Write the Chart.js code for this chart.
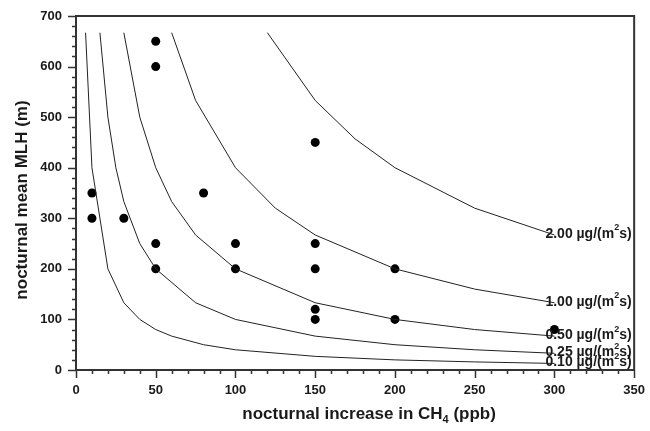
<!DOCTYPE html>
<html>
<head>
<meta charset="utf-8">
<script src="https://cdn.jsdelivr.net/npm/chart.js@4"></script>
<style>
  html, body { margin: 0; padding: 0; background: #fff; }
  #wrap { width: 650px; height: 431px; }
</style>
</head>
<body>
<div id="wrap"><canvas id="mlh"></canvas></div>
<script>
// measured points: nocturnal CH4 increase (ppb) vs mean MLH (m)
const obsIncrease = [10, 10, 30, 50, 50, 50, 50, 80, 100, 100, 150, 150, 150, 150, 150, 200, 200, 300];
const obsMLH = [350, 300, 300, 650, 600, 250, 200, 350, 250, 200, 450, 250, 200, 120, 100, 200, 100, 80];

// flux isolines
const fluxLabels = ["2.00", "1.00", "0.50", "0.25", "0.10"];
const flux200X = [120, 150, 175, 200, 250, 300];
const flux200Y = [667, 533, 457, 400, 320, 267];
const flux100X = [60, 75, 100, 125, 150, 200, 250, 300];
const flux100Y = [667, 533, 400, 320, 267, 200, 160, 133];
const flux050X = [30, 40, 50, 60, 75, 100, 150, 200, 250, 300];
const flux050Y = [667, 500, 400, 333, 267, 200, 133, 100, 80, 67];
const flux025X = [15, 20, 25, 30, 40, 50, 75, 100, 150, 200, 250, 300];
const flux025Y = [667, 500, 400, 333, 250, 200, 133, 100, 67, 50, 40, 33];
const flux010X = [6, 10, 20, 30, 40, 50, 60, 80, 100, 150, 200, 250, 300];
const flux010Y = [667, 400, 200, 133, 100, 80, 67, 50, 40, 27, 20, 16, 13];

const xTicks = [0, 50, 100, 150, 200, 250, 300, 350];
const yTicks = [0, 100, 200, 300, 400, 500, 600, 700];

const pairs = (xs, ys) => xs.map((x, i) => ({ x: x, y: ys[i] }));
const curves = [
  pairs(flux200X, flux200Y),
  pairs(flux100X, flux100Y),
  pairs(flux050X, flux050Y),
  pairs(flux025X, flux025Y),
  pairs(flux010X, flux010Y),
];

const INK = "#1a1a1a";
const AXIS = "#333";

const curveSets = curves.map((pts, i) => ({
  label: fluxLabels[i],
  data: pts,
  showLine: true,
  borderColor: "#222",
  borderWidth: 1,
  pointRadius: 0,
  tension: 0,
  isCurve: true,
}));

// ticks, frame, titles and curve labels
const decor = {
  id: "decor",
  afterDraw(chart) {
    const ctx = chart.ctx;
    const a = chart.chartArea;
    const xs = chart.scales.x;
    const ys = chart.scales.y;
    ctx.save();
    ctx.strokeStyle = AXIS;
    ctx.lineWidth = 2;
    // frame top + right
    ctx.beginPath();
    ctx.moveTo(a.left, a.top);
    ctx.lineTo(a.right, a.top);
    ctx.lineTo(a.right, a.bottom);
    ctx.stroke();

    ctx.lineWidth = 1.5;
    ctx.beginPath();
    xs.ticks.forEach((t) => {
      const px = Math.round(xs.getPixelForValue(t.value)) + 0.5;
      const len = xTicks.includes(t.value) ? 8 : 4;
      ctx.moveTo(px, a.bottom);
      ctx.lineTo(px, a.bottom + len);
    });
    ys.ticks.forEach((t) => {
      const py = Math.round(ys.getPixelForValue(t.value)) + 0.5;
      const len = yTicks.includes(t.value) ? 8 : 4;
      ctx.moveTo(a.left, py);
      ctx.lineTo(a.left - len, py);
    });
    ctx.stroke();

    // curve labels with superscript 2
    ctx.fillStyle = INK;
    ctx.textBaseline = "middle";
    chart.data.datasets.forEach((ds, i) => {
      if (!ds.isCurve) return;
      const last = ds.data[ds.data.length - 1];
      let px = xs.getPixelForValue(last.x) - 9;
      const py = ys.getPixelForValue(last.y) - 1;
      ctx.font = "bold 14px 'Liberation Sans', Arial, sans-serif";
      const a1 = ds.label + " \u00b5g/(m";
      ctx.fillText(a1, px, py);
      px += ctx.measureText(a1).width;
      ctx.font = "bold 9px 'Liberation Sans', Arial, sans-serif";
      ctx.fillText("2", px, py - 6);
      px += ctx.measureText("2").width;
      ctx.font = "bold 14px 'Liberation Sans', Arial, sans-serif";
      ctx.fillText("s)", px, py);
    });

    // x title with subscript 4
    ctx.textBaseline = "alphabetic";
    const big = "bold 17px 'Liberation Sans', Arial, sans-serif";
    const small = "bold 11px 'Liberation Sans', Arial, sans-serif";
    const p1 = "nocturnal increase in CH";
    const p2 = "4";
    const p3 = " (ppb)";
    ctx.font = big;
    const w1 = ctx.measureText(p1).width;
    const w3 = ctx.measureText(p3).width;
    ctx.font = small;
    const w2 = ctx.measureText(p2).width;
    let tx = (a.left + a.right) / 2 - (w1 + w2 + w3) / 2 + 14;
    const ty = 419;
    ctx.font = big;
    ctx.fillText(p1, tx, ty);
    tx += w1;
    ctx.font = small;
    ctx.fillText(p2, tx, ty + 4);
    tx += w2;
    ctx.font = big;
    ctx.fillText(p3, tx, ty);

    // y title
    ctx.translate(22, (a.top + a.bottom) / 2 + 7);
    ctx.rotate(-Math.PI / 2);
    ctx.textAlign = "center";
    ctx.textBaseline = "middle";
    ctx.font = big;
    ctx.fillText("nocturnal mean MLH (m)", 0, 0);
    ctx.restore();
  },
};

new Chart(document.getElementById("mlh"), {
  type: "scatter",
  data: {
    datasets: [
      ...curveSets,
      {
        label: "observed",
        data: pairs(obsIncrease, obsMLH),
        pointRadius: 4.5,
        pointHoverRadius: 4.5,
        pointBackgroundColor: "#000",
        pointBorderColor: "#000",
        borderWidth: 0,
        showLine: false,
      },
    ],
  },
  options: {
    responsive: true,
    maintainAspectRatio: false,
    animation: false,
    events: [],
    layout: { padding: { top: 16, right: 13, left: 0, bottom: 0 } },
    plugins: {
      legend: { display: false },
      tooltip: { enabled: false },
    },
    scales: {
      x: {
        type: "linear",
        min: 0,
        max: 350,
        afterFit: (s) => { s.height = 61; },
        border: { display: true, color: AXIS, width: 2 },
        grid: { drawOnChartArea: false, drawTicks: true, tickLength: 8, tickColor: "rgba(0,0,0,0)" },
        ticks: {
          stepSize: 10,
          autoSkip: false,
          maxRotation: 0,
          maxTicksLimit: 100,
          padding: 5,
          color: INK,
          font: { family: "'Liberation Sans', Arial, sans-serif", size: 13, weight: "bold" },
          callback: (v) => (xTicks.includes(v) ? String(v) : ""),
        },
      },
      y: {
        type: "linear",
        min: 0,
        max: 700,
        afterFit: (s) => { s.width = 76; },
        border: { display: true, color: AXIS, width: 2 },
        grid: { drawOnChartArea: false, drawTicks: true, tickLength: 8, tickColor: "rgba(0,0,0,0)" },
        ticks: {
          stepSize: 20,
          autoSkip: false,
          maxTicksLimit: 100,
          padding: 6,
          color: INK,
          font: { family: "'Liberation Sans', Arial, sans-serif", size: 13, weight: "bold" },
          callback: (v) => (yTicks.includes(v) ? String(v) : ""),
        },
      },
    },
  },
  plugins: [decor],
});
</script>
</body>
</html>
